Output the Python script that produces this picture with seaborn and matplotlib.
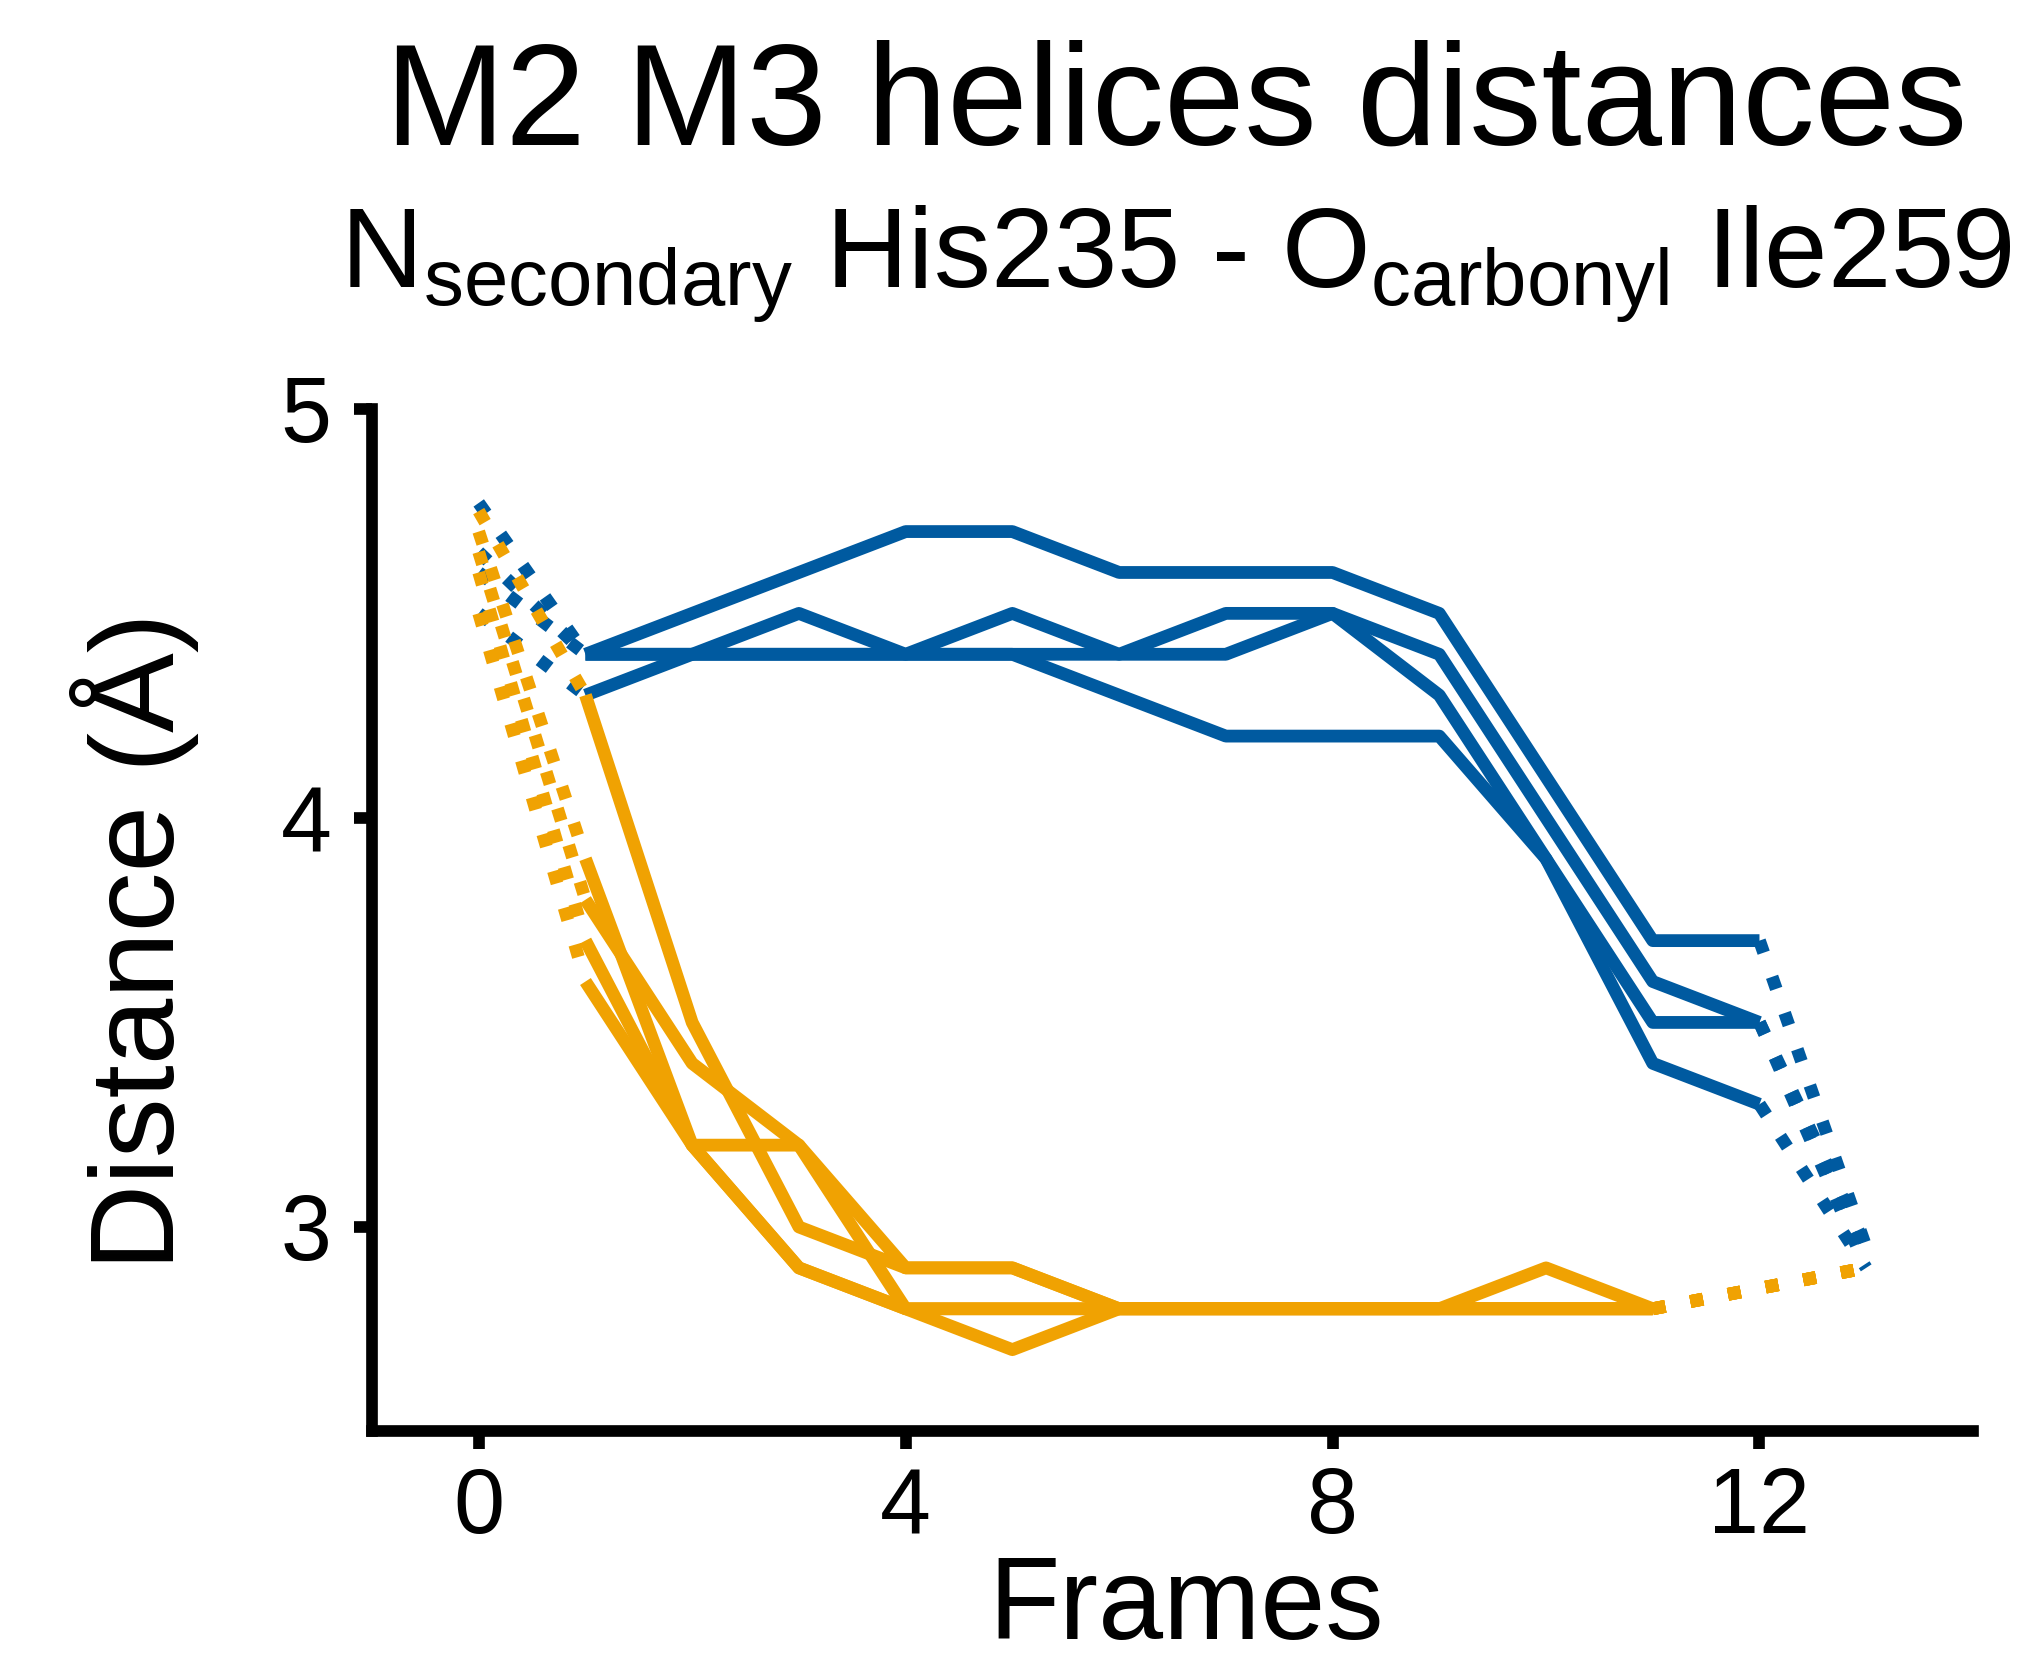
import numpy as np
import pandas as pd
import matplotlib.pyplot as plt
import seaborn as sns

# solid part of every trajectory (distance in Angstrom per frame)
blue_frames = list(range(1, 13))
blue_b1 = [4.4, 4.5, 4.6, 4.7, 4.7, 4.6, 4.6, 4.6, 4.5, 4.1, 3.7, 3.7]
blue_b2 = [4.4, 4.4, 4.4, 4.4, 4.4, 4.4, 4.4, 4.5, 4.4, 4.0, 3.6, 3.5]
blue_b3 = [4.3, 4.4, 4.5, 4.4, 4.5, 4.4, 4.5, 4.5, 4.3, 3.9, 3.5, 3.5]
blue_b4 = [4.4, 4.4, 4.4, 4.4, 4.4, 4.3, 4.2, 4.2, 4.2, 3.9, 3.4, 3.3]
blue_start = [4.77, 4.65, 4.5, 4.6]     # frame 0 (dotted)
blue_end = [2.95, 2.95, 2.9, 2.9]       # frame 13 (dotted)

orange_frames = list(range(1, 12))
orange_o1 = [4.3, 3.5, 3.0, 2.9, 2.9, 2.8, 2.8, 2.8, 2.8, 2.8, 2.8]
orange_o2 = [3.9, 3.2, 3.2, 2.9, 2.9, 2.8, 2.8, 2.8, 2.8, 2.9, 2.8]
orange_o3 = [3.8, 3.4, 3.2, 2.8, 2.8, 2.8, 2.8, 2.8, 2.8, 2.8, 2.8]
orange_o4 = [3.7, 3.2, 2.9, 2.8, 2.7, 2.8, 2.8, 2.8, 2.8, 2.8, 2.8]
orange_o5 = [3.6, 3.2, 2.9, 2.8, 2.8, 2.8, 2.8, 2.8, 2.8, 2.8, 2.8]
orange_start = [4.75, 4.7, 4.65, 4.6, 4.5]
orange_end = [2.9, 2.9, 2.9, 2.9, 2.9]

start_frame = 0
end_frame = 13

blue = "#005AA0"
orange = "#F0A202"


def build(group, frames, runs, starts, ends):
    solid, dotted = [], []
    for i, vals in enumerate(runs):
        run = f"{group}{i}"
        for f, v in zip(frames, vals):
            solid.append((group, run, f, v))
        dotted.append((group, run + "s", start_frame, starts[i]))
        dotted.append((group, run + "s", frames[0], vals[0]))
        dotted.append((group, run + "e", frames[-1], vals[-1]))
        dotted.append((group, run + "e", end_frame, ends[i]))
    cols = ["group", "run", "frame", "dist"]
    return pd.DataFrame(solid, columns=cols), pd.DataFrame(dotted, columns=cols)


bs, bd = build("blue", blue_frames, [blue_b1, blue_b2, blue_b3, blue_b4], blue_start, blue_end)
os_, od = build("orange", orange_frames, [orange_o1, orange_o2, orange_o3, orange_o4, orange_o5],
                orange_start, orange_end)

sns.set_theme(style="ticks")
plt.rcParams["font.family"] = ["Liberation Sans", "DejaVu Sans"]
plt.rcParams["mathtext.fontset"] = "custom"
plt.rcParams["mathtext.rm"] = "Liberation Sans"
plt.rcParams["mathtext.it"] = "Liberation Sans"
plt.rcParams["text.color"] = "black"

fig = plt.figure(figsize=(10.175, 8.31), dpi=200)
ax = fig.add_axes([0.1828, 0.1387, 0.7867, 0.6153])

lw = 4.6
pal = {"blue": blue, "orange": orange}
for solid, dotted in [(bs, bd), (os_, od)]:
    sns.lineplot(data=solid, x="frame", y="dist", hue="group", units="run", estimator=None,
                 palette=pal, lw=lw, legend=False, ax=ax, solid_capstyle="butt")
    sns.lineplot(data=dotted, x="frame", y="dist", hue="group", units="run", estimator=None,
                 palette=pal, lw=lw, legend=False, ax=ax, linestyle=(0, (1, 2.0)),
                 dash_capstyle="butt")

ax.set_xlim(-1, 14)
ax.set_ylim(2.5, 5)
ax.set_xticks([0, 4, 8, 12])
ax.set_yticks([3, 4, 5])
ax.set_xlabel("")
ax.set_ylabel("")
sns.despine(ax=ax)
for s in ["left", "bottom"]:
    ax.spines[s].set_linewidth(4.2)
    ax.spines[s].set_color("black")
    ax.spines[s].set_capstyle("projecting")
ax.tick_params(axis="both", length=6.5, width=4.2, color="black", labelsize=33,
               labelcolor="black", pad=8)
ax.tick_params(axis="x", pad=6)
for t in ax.xaxis.get_ticklines() + ax.yaxis.get_ticklines():
    t.set_solid_capstyle("round")

fig.text(0.583, 0.014, "Frames", fontsize=42, ha="center", va="baseline")
fig.text(0.066, 0.434, "Distance (Å)", fontsize=43, rotation=90, ha="center", va="center")
fig.text(0.578, 0.9128, "M2 M3 helices distances", fontsize=52, ha="center", va="baseline")
fig.text(0.578, 0.8267,
         r"N$_{\mathrm{secondary}}$ His235 - O$_{\mathrm{carbonyl}}$ Ile259",
         fontsize=41, ha="center", va="baseline")

fig.savefig("out.png", dpi=200, facecolor="white")
